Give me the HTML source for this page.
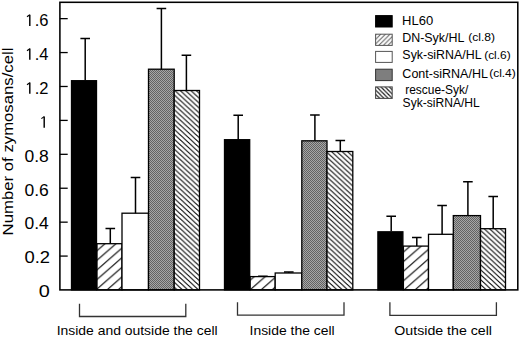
<!DOCTYPE html>
<html><head><meta charset="utf-8"><style>
html,body{margin:0;padding:0;background:#fff;}
body{width:520px;height:338px;overflow:hidden;}
svg{display:block;}
text{font-family:"Liberation Sans",sans-serif;fill:#000;}
</style></head><body>
<svg width="520" height="338" viewBox="0 0 520 338">
<defs>
<pattern id="dn" patternUnits="userSpaceOnUse" width="11.0" height="9.6" patternTransform="translate(10.230,0)"><rect width="11.0" height="9.6" fill="#fff"/><path d="M-11.0,9.6 L11.0,-9.6 M-11.0,19.2 L22.0,-9.6 M0,19.2 L22.0,0" stroke="#000" stroke-width="1.05"/></pattern>
<pattern id="rs" patternUnits="userSpaceOnUse" width="5.33" height="4.93" patternTransform="translate(2.399,0)"><rect width="5.33" height="4.93" fill="#fff"/><path d="M-5.33,-4.93 L10.66,9.86 M0,-4.93 L10.66,4.93 M-5.33,0 L5.33,9.86" stroke="#000" stroke-width="0.95"/></pattern>
<pattern id="gr" patternUnits="userSpaceOnUse" width="2" height="2"><rect width="2" height="2" fill="#a6a6a6"/><rect width="1" height="1" fill="#626262"/><rect x="1" y="1" width="1" height="1" fill="#626262"/></pattern>
<pattern id="ldn" patternUnits="userSpaceOnUse" width="4.6" height="4.6" patternTransform="translate(1,0)"><rect width="4.6" height="4.6" fill="#fff"/><path d="M-1,1 L1,-1 M0,4.6 L4.6,0 M3.6,5.6 L5.6,3.6" stroke="#555" stroke-width="0.95"/></pattern>
<pattern id="lrs" patternUnits="userSpaceOnUse" width="4.2" height="4.2"><rect width="4.2" height="4.2" fill="#fff"/><path d="M-1,-1 L5.2,5.2 M-1,3.2 L1,5.2 M3.2,-1 L5.2,1" stroke="#222" stroke-width="1.2"/></pattern>
</defs>
<rect x="71.50" y="80.70" width="25.00" height="209.20" fill="#000" stroke="#000" stroke-width="1.3"/>
<rect x="97" y="243.7" width="25.00" height="46.20" fill="url(#dn)" stroke="#000" stroke-width="1.3"/>
<rect x="122" y="213.2" width="26.50" height="76.70" fill="#fff" stroke="#000" stroke-width="1.3"/>
<rect x="148.5" y="69.2" width="25.70" height="220.70" fill="url(#gr)" stroke="#000" stroke-width="1.3"/>
<rect x="174.2" y="90.5" width="25.30" height="199.40" fill="url(#rs)" stroke="#000" stroke-width="1.3"/>
<rect x="224.50" y="139.70" width="25.20" height="150.20" fill="#000" stroke="#000" stroke-width="1.3"/>
<rect x="250.2" y="276.6" width="25.00" height="13.30" fill="url(#dn)" stroke="#000" stroke-width="1.3"/>
<rect x="275.2" y="273" width="26.60" height="16.90" fill="#fff" stroke="#000" stroke-width="1.3"/>
<rect x="301.8" y="140.8" width="25.20" height="149.10" fill="url(#gr)" stroke="#000" stroke-width="1.3"/>
<rect x="327" y="151.5" width="25.80" height="138.40" fill="url(#rs)" stroke="#000" stroke-width="1.3"/>
<rect x="377.90" y="231.80" width="25.00" height="58.10" fill="#000" stroke="#000" stroke-width="1.3"/>
<rect x="403.4" y="246.1" width="25.10" height="43.80" fill="url(#dn)" stroke="#000" stroke-width="1.3"/>
<rect x="428.5" y="234.3" width="24.80" height="55.60" fill="#fff" stroke="#000" stroke-width="1.3"/>
<rect x="453.3" y="215.6" width="27.20" height="74.30" fill="url(#gr)" stroke="#000" stroke-width="1.3"/>
<rect x="480.5" y="228.7" width="25.00" height="61.20" fill="url(#rs)" stroke="#000" stroke-width="1.3"/>
<path d="M85.20,80.2 V38.6 M80.40,38.6 H90.00" stroke="#000" stroke-width="1.5" fill="none"/>
<path d="M110.30,243.7 V228.4 M105.50,228.4 H115.10" stroke="#000" stroke-width="1.5" fill="none"/>
<path d="M135.50,213.2 V177.6 M130.70,177.6 H140.30" stroke="#000" stroke-width="1.5" fill="none"/>
<path d="M161.40,69.2 V8.4 M156.60,8.4 H166.20" stroke="#000" stroke-width="1.5" fill="none"/>
<path d="M186.40,90.5 V55.2 M181.60,55.2 H191.20" stroke="#000" stroke-width="1.5" fill="none"/>
<path d="M238.20,139.2 V115.2 M233.40,115.2 H243.00" stroke="#000" stroke-width="1.5" fill="none"/>
<path d="M262.90,276.6 V276.3 M258.10,276.3 H267.70" stroke="#000" stroke-width="1.5" fill="none"/>
<path d="M288.80,273 V272.0 M284.00,272.0 H293.60" stroke="#000" stroke-width="1.5" fill="none"/>
<path d="M314.90,140.8 V115.0 M310.10,115.0 H319.70" stroke="#000" stroke-width="1.5" fill="none"/>
<path d="M340.30,151.5 V140.5 M335.50,140.5 H345.10" stroke="#000" stroke-width="1.5" fill="none"/>
<path d="M391.20,231.3 V216.2 M386.40,216.2 H396.00" stroke="#000" stroke-width="1.5" fill="none"/>
<path d="M416.80,246.1 V237.5 M412.00,237.5 H421.60" stroke="#000" stroke-width="1.5" fill="none"/>
<path d="M442.10,234.3 V205.5 M437.30,205.5 H446.90" stroke="#000" stroke-width="1.5" fill="none"/>
<path d="M467.90,215.6 V181.7 M463.10,181.7 H472.70" stroke="#000" stroke-width="1.5" fill="none"/>
<path d="M493.20,228.7 V196.4 M488.40,196.4 H498.00" stroke="#000" stroke-width="1.5" fill="none"/>
<rect x="59.9" y="2.3" width="457.9" height="287.6" fill="none" stroke="#000" stroke-width="1.55"/>
<text transform="translate(38.66,297.30) scale(1.2429,1)" font-size="16">0</text>
<line x1="59.9" x2="67.7" y1="256.08" y2="256.08" stroke="#000" stroke-width="1.3"/>
<text transform="translate(24.45,263.38) scale(1.1500,1)" font-size="16">0.2</text>
<line x1="59.9" x2="67.7" y1="222.16" y2="222.16" stroke="#000" stroke-width="1.3"/>
<text transform="translate(24.50,229.46) scale(1.0952,1)" font-size="16">0.4</text>
<line x1="59.9" x2="67.7" y1="188.24" y2="188.24" stroke="#000" stroke-width="1.3"/>
<text transform="translate(24.50,195.54) scale(1.0952,1)" font-size="16">0.6</text>
<line x1="59.9" x2="67.7" y1="154.32" y2="154.32" stroke="#000" stroke-width="1.3"/>
<text transform="translate(24.50,161.62) scale(1.0952,1)" font-size="16">0.8</text>
<line x1="59.9" x2="67.7" y1="120.40" y2="120.40" stroke="#000" stroke-width="1.3"/>
<path d="M44.20,127.70 V116.40" stroke="#000" stroke-width="1.45" fill="none"/><path d="M44.20,116.60 L41.40,118.60" stroke="#000" stroke-width="1.15" fill="none"/>
<line x1="59.9" x2="67.7" y1="86.48" y2="86.48" stroke="#000" stroke-width="1.3"/>
<text transform="translate(34.77,93.78) scale(1.0333,1)" font-size="16">.2</text>
<path d="M29.80,93.78 V82.48" stroke="#000" stroke-width="1.45" fill="none"/><path d="M29.80,82.68 L27.00,84.68" stroke="#000" stroke-width="1.15" fill="none"/>
<line x1="59.9" x2="67.7" y1="52.56" y2="52.56" stroke="#000" stroke-width="1.3"/>
<text transform="translate(34.77,59.86) scale(1.0333,1)" font-size="16">.4</text>
<path d="M29.80,59.86 V48.56" stroke="#000" stroke-width="1.45" fill="none"/><path d="M29.80,48.76 L27.00,50.76" stroke="#000" stroke-width="1.15" fill="none"/>
<line x1="59.9" x2="67.7" y1="18.64" y2="18.64" stroke="#000" stroke-width="1.3"/>
<text transform="translate(34.77,25.94) scale(1.0333,1)" font-size="16">.6</text>
<path d="M29.80,25.94 V14.64" stroke="#000" stroke-width="1.45" fill="none"/><path d="M29.80,14.84 L27.00,16.84" stroke="#000" stroke-width="1.15" fill="none"/>
<text transform="translate(13.0,235.38) rotate(-90) scale(1.0802,1)" font-size="15.5">Number of zymosans/cell</text>
<rect x="375.6" y="15.6" width="16.6" height="11.40" fill="#000" stroke="#000" stroke-width="1"/>
<rect x="375.6" y="34.2" width="16.6" height="11.20" fill="url(#ldn)" stroke="#555" stroke-width="1"/>
<rect x="375.6" y="51.4" width="16.6" height="11.00" fill="#fff" stroke="#555" stroke-width="1"/>
<rect x="375.6" y="69.2" width="16.6" height="11.40" fill="#7e7e7e" stroke="#333" stroke-width="1"/>
<rect x="375.6" y="86.9" width="16.6" height="11.50" fill="url(#lrs)" stroke="#444" stroke-width="1"/>
<text transform="translate(402.11,24.80) scale(1.0852,1)" font-size="12">HL60</text>
<text transform="translate(402.16,42.00) scale(1.0390,1)" font-size="12">DN-Syk/HL</text>
<text transform="translate(468.25,41.10) scale(1.0500,1)" font-size="11.5">(cl.8)</text>
<text transform="translate(402.37,59.30) scale(1.0347,1)" font-size="12">Syk-siRNA/HL</text>
<text transform="translate(484.16,58.50) scale(1.0375,1)" font-size="11.5">(cl.6)</text>
<text transform="translate(402.36,78.00) scale(1.0444,1)" font-size="12">Cont-siRNA/HL</text>
<text transform="translate(489.16,77.00) scale(1.0417,1)" font-size="11.5">(cl.4)</text>
<text transform="translate(405.20,93.80) scale(0.9968,1)" font-size="12">rescue-Syk/</text>
<text transform="translate(402.59,106.80) scale(1.0067,1)" font-size="12">Syk-siRNA/HL</text>
<text transform="translate(56.63,335.20) scale(1.0711,1)" font-size="13">Inside and outside the cell</text>
<text transform="translate(249.53,335.00) scale(1.0718,1)" font-size="13">Inside the cell</text>
<text transform="translate(394.31,335.10) scale(1.0909,1)" font-size="13">Outside the cell</text>
<path d="M79.5,303.7 V316.5 H185.8 V303.7" fill="none" stroke="#333" stroke-width="1.3"/>
<path d="M237.5,302.2 V315.2 H344 V302.2" fill="none" stroke="#333" stroke-width="1.3"/>
<path d="M389.9,302.2 V315.4 H496.4 V302.2" fill="none" stroke="#333" stroke-width="1.3"/>
</svg>
</body></html>
